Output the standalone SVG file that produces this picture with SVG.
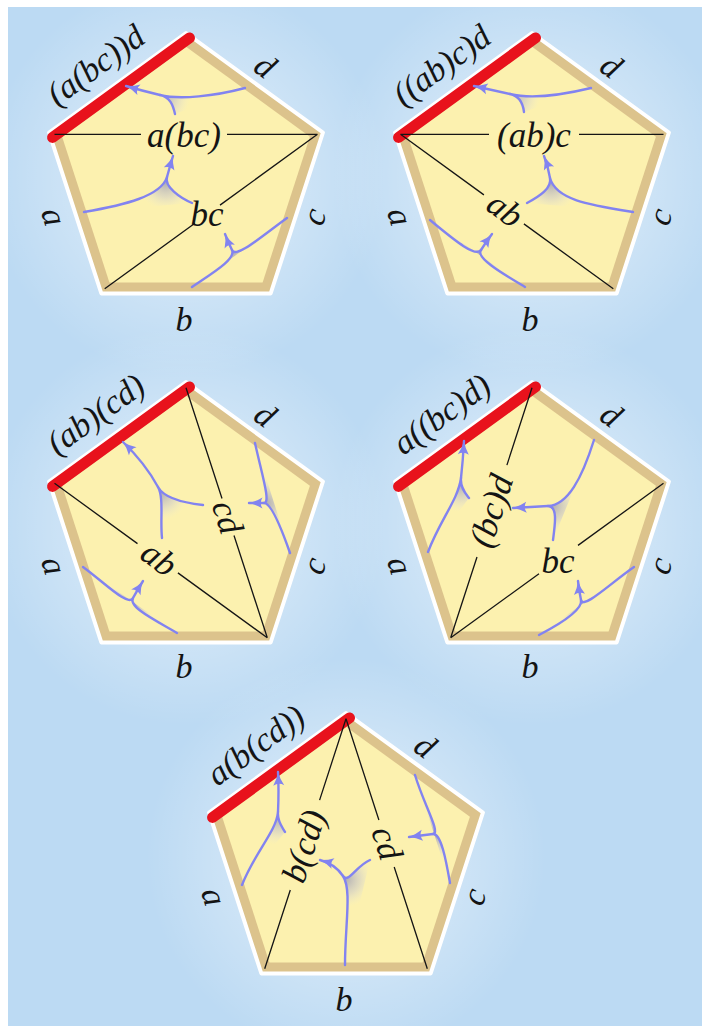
<svg xmlns="http://www.w3.org/2000/svg" width="702" height="1026" viewBox="0 0 702 1026">
<style>
.diag{stroke:#151515;stroke-width:1.3;fill:none}
.lbl{font-family:"Liberation Serif",serif;font-style:italic;font-size:35px;fill:#141414}
.out{font-family:"Liberation Serif",serif;font-style:italic;font-size:34px;fill:#141414}
.tr{stroke:#8283f0;stroke-width:2.4;fill:none;stroke-linecap:round}
.ar{marker-end:url(#ah)}
</style>
<defs>
<radialGradient id="glow"><stop offset="0" stop-color="#fff" stop-opacity=".55"/><stop offset=".6" stop-color="#fff" stop-opacity=".25"/><stop offset="1" stop-color="#fff" stop-opacity="0"/></radialGradient>
<radialGradient id="sh" gradientUnits="userSpaceOnUse" r="28"><stop offset="0" stop-color="#9a9ab2" stop-opacity=".8"/><stop offset=".55" stop-color="#c4c4d2" stop-opacity=".45"/><stop offset="1" stop-color="#e8e8e0" stop-opacity="0"/></radialGradient>
<radialGradient id="s11" href="#sh" cx="162" cy="97"/>
<radialGradient id="s12" href="#sh" cx="166" cy="182"/>
<radialGradient id="s13" href="#sh" cx="232" cy="252"/>
<radialGradient id="s21" href="#sh" cx="512" cy="96"/>
<radialGradient id="s22" href="#sh" cx="551" cy="183"/>
<radialGradient id="s23" href="#sh" cx="481" cy="252"/>
<radialGradient id="s31" href="#sh" cx="133" cy="600"/>
<radialGradient id="s32" href="#sh" cx="161" cy="492"/>
<radialGradient id="s33" href="#sh" cx="266" cy="503"/>
<radialGradient id="s41" href="#sh" cx="461" cy="484"/>
<radialGradient id="s42" href="#sh" cx="552" cy="506"/>
<radialGradient id="s43" href="#sh" cx="581" cy="602"/>
<radialGradient id="s51" href="#sh" cx="278" cy="817"/>
<radialGradient id="s52" href="#sh" cx="345" cy="879"/>
<radialGradient id="s53" href="#sh" cx="435" cy="834"/>
<marker id="ah" markerUnits="userSpaceOnUse" markerWidth="16" markerHeight="14" refX="14" refY="6.5" orient="auto" overflow="visible"><path d="M14,6.5 Q7,5 0.5,1 Q4,6.5 0.5,12 Q7,8 14,6.5 Z" fill="#8283f0"/></marker>
<g id="pent">
<polygon points="0,-144 136.95,-44.5 84.64,116.5 -84.64,116.5 -136.95,-44.5" fill="#dcc38c" stroke="#fff" stroke-width="4" stroke-linejoin="round"/>
<polygon points="0,-130.3 123.9,-40.3 76.6,105.4 -76.6,105.4 -123.9,-40.3" fill="#fcf1af"/>
<line x1="-133.4" y1="-39.6" x2="3.5" y2="-139.1" stroke="#e8121c" stroke-width="11" stroke-linecap="round"/>
</g>
</defs>
<rect width="702" height="1026" fill="#fff"/>
<rect x="8" y="7" width="694" height="1019" fill="#bcdaf3"/>
<circle cx="186" cy="177" r="200" fill="url(#glow)"/>
<circle cx="532" cy="177" r="200" fill="url(#glow)"/>
<circle cx="186" cy="526" r="200" fill="url(#glow)"/>
<circle cx="532" cy="526" r="200" fill="url(#glow)"/>
<circle cx="346" cy="857" r="200" fill="url(#glow)"/>

<g id="p1">
<use href="#pent" transform="translate(186,177)"/>
<path class="diag" d="M54.5,134.3H141M227,134.3H317.5M317.5,134.3L220,205.1M194.9,223.3L104.7,288.8"/>
<text class="lbl" x="184" y="147" text-anchor="middle">a(bc)</text>
<text class="lbl" x="207" y="226" text-anchor="middle">bc</text>
<text class="out" transform="translate(97,67) rotate(-36)" y="9" text-anchor="middle">(a(bc))d</text>
<text class="out" transform="translate(265,66) rotate(36)" y="11" text-anchor="middle">d</text>
<text class="out" transform="translate(50,218) rotate(72)" y="7" text-anchor="middle">a</text>
<text class="out" transform="translate(318,218) rotate(-72)" y="7" text-anchor="middle">c</text>
<text class="out" x="184" y="331" text-anchor="middle">b</text>
</g>

<g id="p2">
<use href="#pent" transform="translate(532,177)"/>
<path class="diag" d="M400.5,134.3H489M579,134.3H663.5M400.5,134.3L483.9,194.9M523.9,223.9L613.3,288.8"/>
<text class="lbl" x="534" y="147" text-anchor="middle">(ab)c</text>
<text class="lbl" transform="translate(504.8,210.2) rotate(36)" y="11" text-anchor="middle">ab</text>
<text class="out" transform="translate(443,67) rotate(-36)" y="9" text-anchor="middle">((ab)c)d</text>
<text class="out" transform="translate(611,66) rotate(36)" y="11" text-anchor="middle">d</text>
<text class="out" transform="translate(396,218) rotate(72)" y="7" text-anchor="middle">a</text>
<text class="out" transform="translate(664,218) rotate(-72)" y="7" text-anchor="middle">c</text>
<text class="out" x="530" y="331" text-anchor="middle">b</text>
</g>

<g id="p3">
<use href="#pent" transform="translate(186,526)"/>
<path class="diag" d="M54.5,483.3L137.5,543.6M177.9,572.9L267.3,637.8M186,387.8L222,498.5M234,535.5L267.3,637.8"/>
<text class="lbl" transform="translate(158.8,559) rotate(36)" y="11" text-anchor="middle">ab</text>
<text class="lbl" transform="translate(228,517) rotate(72)" y="12" text-anchor="middle">cd</text>
<text class="out" transform="translate(97,416) rotate(-36)" y="9" text-anchor="middle">(ab)(cd)</text>
<text class="out" transform="translate(265,415) rotate(36)" y="11" text-anchor="middle">d</text>
<text class="out" transform="translate(50,567) rotate(72)" y="7" text-anchor="middle">a</text>
<text class="out" transform="translate(318,567) rotate(-72)" y="7" text-anchor="middle">c</text>
<text class="out" x="184" y="678" text-anchor="middle">b</text>
</g>

<g id="p4">
<use href="#pent" transform="translate(532,526)"/>
<path class="diag" d="M532,387.8L506.9,465.1M477,557L450.7,637.8M663.5,483.3L578,545.4M539,573.7L450.7,637.8"/>
<text class="lbl" transform="translate(491.9,511) rotate(-72)" y="11" text-anchor="middle">(bc)d</text>
<text class="lbl" x="558" y="573" text-anchor="middle">bc</text>
<text class="out" transform="translate(443,416) rotate(-36)" y="9" text-anchor="middle">a((bc)d)</text>
<text class="out" transform="translate(611,415) rotate(36)" y="11" text-anchor="middle">d</text>
<text class="out" transform="translate(396,567) rotate(72)" y="7" text-anchor="middle">a</text>
<text class="out" transform="translate(664,567) rotate(-72)" y="7" text-anchor="middle">c</text>
<text class="out" x="530" y="678" text-anchor="middle">b</text>
</g>

<g id="p5">
<use href="#pent" transform="translate(346,857)"/>
<path class="diag" d="M346,718.8L319.6,800.1M290.3,890L264.7,968.8M346,718.8L378.9,820M394.2,867L427.3,968.8"/>
<text class="lbl" transform="translate(304.5,846.3) rotate(-72)" y="11" text-anchor="middle">b(cd)</text>
<text class="lbl" transform="translate(386.5,843.3) rotate(72)" y="11" text-anchor="middle">cd</text>
<text class="out" transform="translate(257,747) rotate(-36)" y="9" text-anchor="middle">a(b(cd))</text>
<text class="out" transform="translate(425,746) rotate(36)" y="11" text-anchor="middle">d</text>
<text class="out" transform="translate(210,898) rotate(72)" y="7" text-anchor="middle">a</text>
<text class="out" transform="translate(478,898) rotate(-72)" y="7" text-anchor="middle">c</text>
<text class="out" x="344" y="1011" text-anchor="middle">b</text>
</g>

<g id="connectors">
<path fill="url(#s11)" d="M245,88 C215,96 180,100 160,95 C170,97 173,105 175,114 Z"/>
<path fill="url(#s12)" d="M84,212 C125,205 161,196 167,177 C164,186.5 180,198 192,203 Z"/>
<path fill="url(#s13)" d="M192,287 C214,272 236,259 232,250 C236,259 262,236 287,218 Z"/>
<path fill="url(#s21)" d="M591,88 C562,95 530,99 510,94 C520,96 523,104 524,112 Z"/>
<path fill="url(#s22)" d="M633,212 C590,205 556,200 550,178 C552,188 540,196 527,203 Z"/>
<path fill="url(#s23)" d="M430,220 C452,238 475,258 481,250 C475,258 505,275 525,287 Z"/>
<path fill="url(#s31)" d="M83,567 C105,583 128,607 133,598 C128,607 155,620 177,633 Z"/>
<path fill="url(#s32)" d="M162,538 C160,520 164,498 158,487 C164,498 185,503 203,505 Z"/>
<path fill="url(#s33)" d="M255,443 C262,475 271,503 264,503 C271,503 282,530 290,553 Z"/>
<path fill="url(#s41)" d="M428,552 C440,520 458,500 461,478 C460,488 466,494 469,498 Z"/>
<path fill="url(#s42)" d="M594,440 C582,478 568,505 548,506 C558,506 555,525 553,540 Z"/>
<path fill="url(#s43)" d="M634,567 C612,582 583,610 581,600 C583,610 560,624 539,635 Z"/>
<path fill="url(#s51)" d="M242,885 C255,852 276,832 278,812 C277,822 283,828 285,832 Z"/>
<path fill="url(#s52)" d="M345,965 C345,925 352,890 343,876 C348,884 356,866 370,860 Z"/>
<path fill="url(#s53)" d="M415,775 C424,805 441,833 433,834 C441,833 446,860 450,883 Z"/>

<path class="tr" d="M245,88 C215,96 180,100 160,95 M175,114 C173,105 170,97 160,95"/>
<path class="tr ar" d="M160,95 Q143,91 126,86"/>
<path class="tr" d="M84,212 C125,205 161,196 167,177 M192,203 C180,198 164,186.5 167,177"/>
<path class="tr ar" d="M167,177 Q170,166 173,156"/>
<path class="tr" d="M192,287 C214,272 236,259 232,250 M287,218 C262,236 236,259 232,250"/>
<path class="tr ar" d="M232,250 Q228,242 225,234"/>

<path class="tr" d="M591,88 C562,95 530,99 510,94 M524,112 C523,104 520,96 510,94"/>
<path class="tr ar" d="M510,94 Q492,90 474,86"/>
<path class="tr" d="M633,212 C590,205 556,200 550,178 M527,203 C540,196 552,188 550,178"/>
<path class="tr ar" d="M550,178 Q548,166 544,156"/>
<path class="tr" d="M430,220 C452,238 475,258 481,250 M525,287 C505,275 475,258 481,250"/>
<path class="tr ar" d="M481,250 Q486,242 492,234"/>

<path class="tr" d="M83,567 C105,583 128,607 133,598 M177,633 C155,620 128,607 133,598"/>
<path class="tr ar" d="M133,598 Q138,589 143,581"/>
<path class="tr" d="M162,538 C160,520 164,498 158,487 M203,505 C185,503 164,498 158,487"/>
<path class="tr ar" d="M158,487 Q145,463 123,442"/>
<path class="tr" d="M255,443 C262,475 271,503 264,503 M290,553 C282,530 271,503 264,503"/>
<path class="tr ar" d="M264,503 L249,503"/>

<path class="tr" d="M428,552 C440,520 458,500 461,478 M469,498 C466,494 460,488 461,478"/>
<path class="tr ar" d="M461,478 Q463,460 464,441"/>
<path class="tr" d="M594,440 C582,478 568,505 548,506 M553,540 C555,525 558,506 548,506"/>
<path class="tr ar" d="M548,506 L513,508"/>
<path class="tr" d="M634,567 C612,582 583,610 581,600 M539,635 C560,624 583,610 581,600"/>
<path class="tr ar" d="M581,600 Q579,590 578,581"/>

<path class="tr" d="M242,885 C255,852 276,832 278,812 M285,832 C283,828 277,822 278,812"/>
<path class="tr ar" d="M278,812 Q279,790 278,772"/>
<path class="tr" d="M345,965 C345,925 352,890 343,876 M370,860 C356,866 348,884 343,876"/>
<path class="tr ar" d="M343,876 Q335,864 320,860"/>
<path class="tr" d="M415,775 C424,805 441,833 433,834 M450,883 C446,860 441,833 433,834"/>
<path class="tr ar" d="M433,834 L409,837"/>
</g>
</svg>
